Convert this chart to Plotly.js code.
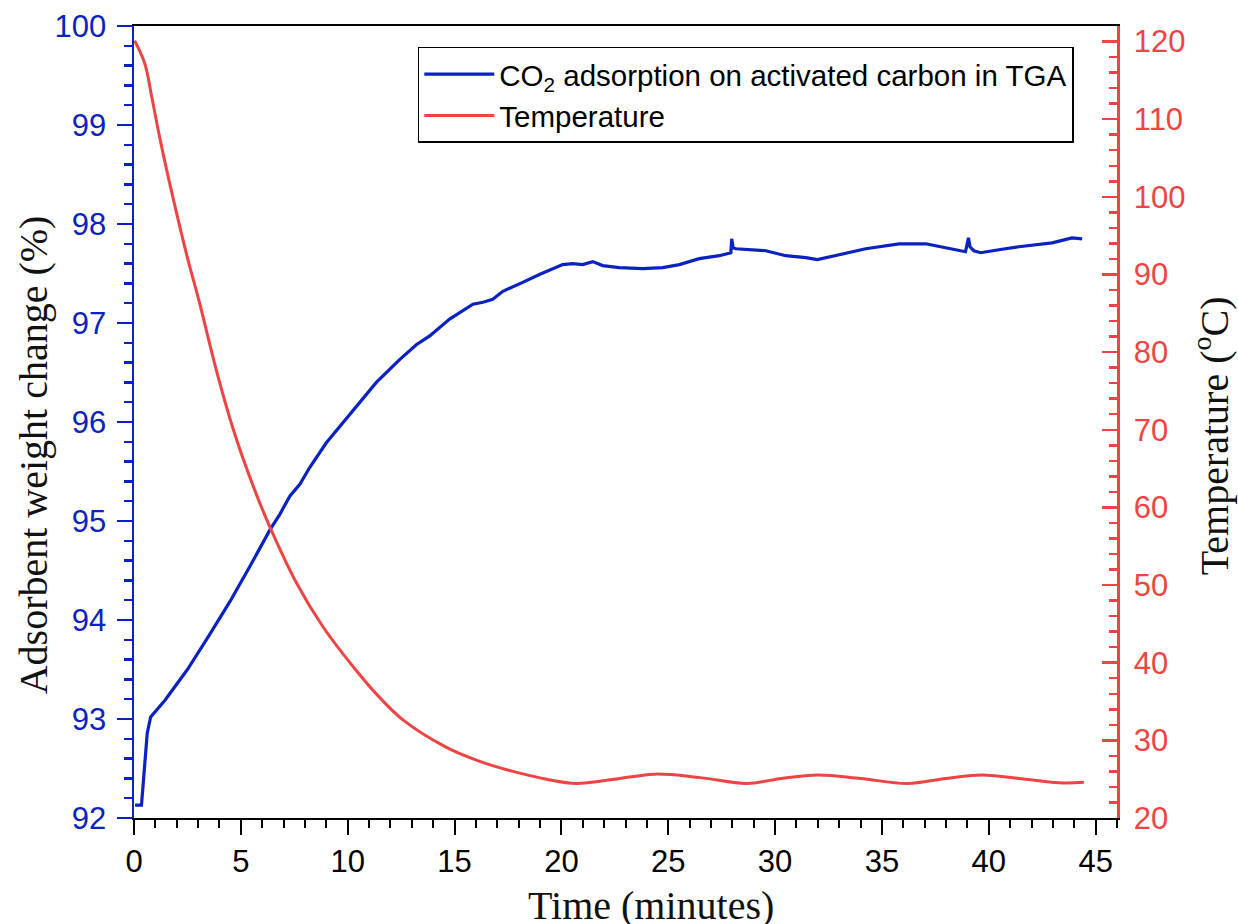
<!DOCTYPE html>
<html>
<head>
<meta charset="utf-8">
<script src="https://cdn.plot.ly/plotly-3.0.1.min.js"></script>
<style>
  html, body { margin: 0; padding: 0; background: #fff; }
  #chart { width: 1238px; height: 924px; }
</style>
</head>
<body>
<div id="chart"></div>
<script>
// CO2 uptake of activated carbon in the TGA (weight %, left axis)
const weightTime = [0.05, 0.35, 0.62, 0.78, 1.45, 2.5, 3.5, 4.5, 5.42, 6.36, 6.83, 7.29, 7.76, 8.22, 9.0,
  10.1, 11.34, 12.43, 13.21, 13.84, 14.77, 15.86, 16.33, 16.79, 17.26, 18.19, 18.97, 20.06, 20.53, 21.0,
  21.47, 21.93, 22.71, 23.8, 24.74, 25.52, 26.45, 27.39, 27.93, 27.97, 28.04, 28.17, 29.57, 30.5, 31.44,
  31.98, 33.0, 34.24, 35.8, 37.05, 37.98, 38.91, 39.05, 39.12, 39.3, 39.62, 40.47, 41.41, 42.96, 43.9, 44.37];
const weightPct = [92.13, 92.13, 92.86, 93.02, 93.19, 93.50, 93.84, 94.19, 94.54, 94.91, 95.07, 95.25, 95.37, 95.54, 95.79,
  96.08, 96.40, 96.63, 96.78, 96.87, 97.04, 97.19, 97.21, 97.24, 97.32, 97.41, 97.49, 97.59, 97.60, 97.59,
  97.62, 97.58, 97.56, 97.55, 97.56, 97.59, 97.65, 97.68, 97.71, 97.85, 97.76, 97.75, 97.73, 97.68, 97.66,
  97.64, 97.69, 97.75, 97.80, 97.80, 97.76, 97.72, 97.86, 97.77, 97.73, 97.71, 97.74, 97.77, 97.81, 97.86, 97.85];

// Sample temperature (°C, right axis)
const tempTime = [0.03, 0.5, 0.85, 1.22, 1.84, 2.47, 3.09, 3.87, 4.64, 5.42, 6.2, 7.6, 8.85, 10.4,
  11.5, 12.6, 14.62, 16.18, 17.74, 19.3, 20.7, 22.4, 24.35, 26.5, 28.7, 30.3, 32.0, 34.0, 36.2,
  38.0, 39.7, 41.7, 43.5, 44.45];
const tempC = [120.1, 117.2, 112.6, 107.4, 99.7, 92.5, 86.1, 77.5, 70.1, 63.9, 58.5, 50.3, 44.6, 39.0,
  35.5, 32.6, 29.1, 27.3, 26.0, 25.0, 24.45, 24.95, 25.65, 25.2, 24.45, 25.1, 25.55, 25.1, 24.45,
  25.1, 25.55, 25.0, 24.5, 24.6];

const seriesNames = ['CO<sub>2</sub> adsorption on activated carbon in TGA', 'Temperature'];
const axisTitles = ['Time (minutes)', 'Adsorbent weight change (%)', 'Temperature (<sup>o</sup>C)'];

const BLUE = '#0a22c2';
const RED = '#f04444';
const tickFont = { family: 'Liberation Sans, Arial, sans-serif', size: 31 };
const titleFont = { family: 'Liberation Serif, Times New Roman, serif', size: 40, color: '#111' };

const traces = [
  { x: weightTime, y: weightPct, name: seriesNames[0], type: 'scatter', mode: 'lines',
    line: { color: BLUE, width: 3.2 }, yaxis: 'y' },
  { x: tempTime, y: tempC, name: seriesNames[1], type: 'scatter', mode: 'lines',
    line: { color: RED, width: 3, shape: 'spline', smoothing: 1 }, yaxis: 'y2' }
];

const layout = {
  width: 1238, height: 924,
  margin: { l: 134, r: 121, t: 26, b: 106, pad: 0 },
  paper_bgcolor: '#fff', plot_bgcolor: '#fff',
  font: { family: 'Liberation Sans, Arial, sans-serif', color: '#000' },
  showlegend: true,
  legend: {
    x: 0.2887, y: 0.9735, xanchor: 'left', yanchor: 'top',
    bgcolor: '#fff', bordercolor: '#000', borderwidth: 1.5,
    font: { family: 'Liberation Sans, Arial, sans-serif', size: 29.5, color: '#000' },
    itemwidth: 70, tracegroupgap: 0
  },
  xaxis: {
    range: [0, 46], dtick: 5, tick0: 0,
    showgrid: false, zeroline: false,
    showline: true, linecolor: '#000', linewidth: 2, mirror: true,
    ticks: 'outside', ticklen: 15, tickwidth: 2, tickcolor: '#000',
    minor: { dtick: 1, ticks: 'outside', ticklen: 8, tickwidth: 2, tickcolor: '#000', showgrid: false },
    tickfont: Object.assign({ color: '#000' }, tickFont)
  },
  yaxis: {
    range: [92, 100], dtick: 1, tick0: 92,
    showgrid: false, zeroline: false,
    showline: true, linecolor: BLUE, linewidth: 2.5,
    ticks: 'outside', ticklen: 15, tickwidth: 2.5, tickcolor: BLUE,
    ticklabelstandoff: 4,
    minor: { dtick: 0.2, ticks: 'outside', ticklen: 8, tickwidth: 2.5, tickcolor: BLUE, showgrid: false },
    tickfont: Object.assign({ color: BLUE }, tickFont)
  },
  yaxis2: {
    overlaying: 'y', side: 'right',
    range: [20, 122], dtick: 10, tick0: 20,
    showgrid: false, zeroline: false,
    showline: true, linecolor: RED, linewidth: 2.5,
    ticks: 'inside', ticklen: 15, tickwidth: 2.5, tickcolor: RED,
    ticklabelstandoff: 8,
    minor: { dtick: 2, ticks: 'inside', ticklen: 8, tickwidth: 2.5, tickcolor: RED, showgrid: false },
    tickfont: Object.assign({ color: RED }, tickFont)
  },
  annotations: [
    { text: axisTitles[0], xref: 'paper', yref: 'paper', x: 0.526, y: -0.111,
      xanchor: 'center', yanchor: 'middle', showarrow: false, font: titleFont },
    { text: axisTitles[1], xref: 'paper', yref: 'paper', x: -0.1027, y: 0.458, textangle: -90,
      xanchor: 'center', yanchor: 'middle', showarrow: false, font: titleFont },
    { text: axisTitles[2], xref: 'paper', yref: 'paper', x: 1.0957, y: 0.482, textangle: -90,
      xanchor: 'center', yanchor: 'middle', showarrow: false, font: titleFont }
  ]
};

Plotly.newPlot('chart', traces, layout, { staticPlot: true, displayModeBar: false });
</script>
</body>
</html>
